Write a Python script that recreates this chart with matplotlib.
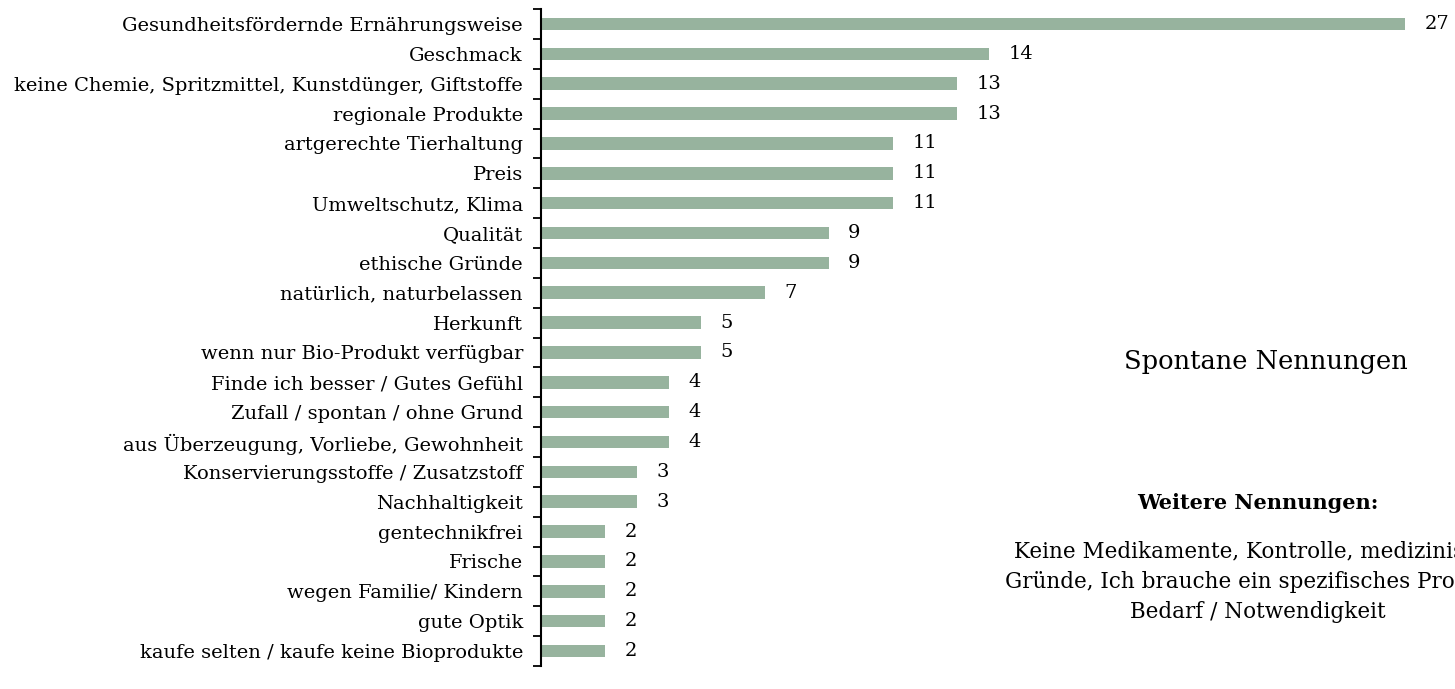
import matplotlib.pyplot as plt

# Data
categories = [
    'Gesundheitsfördernde Ernährungsweise',
    'Geschmack',
    'keine Chemie, Spritzmittel, Kunstdünger, Giftstoffe',
    'regionale Produkte',
    'artgerechte Tierhaltung',
    'Preis',
    'Umweltschutz, Klima',
    'Qualität',
    'ethische Gründe',
    'natürlich, naturbelassen',
    'Herkunft',
    'wenn nur Bio-Produkt verfügbar',
    'Finde ich besser / Gutes Gefühl',
    'Zufall / spontan / ohne Grund',
    'aus Überzeugung, Vorliebe, Gewohnheit',
    'Konservierungsstoffe / Zusatzstoff',
    'Nachhaltigkeit',
    'gentechnikfrei',
    'Frische',
    'wegen Familie/ Kindern',
    'gute Optik',
    'kaufe selten / kaufe keine Bioprodukte',
]
values = [27, 14, 13, 13, 11, 11, 11, 9, 9, 7, 5, 5, 4, 4, 4, 3, 3, 2, 2, 2, 2, 2]

side_title = 'Spontane Nennungen'
more_title = 'Weitere Nennungen:'
more_text = ('Keine Medikamente, Kontrolle, medizinische\n'
             'Gründe, Ich brauche ein spezifisches Produkt,\n'
             'Bedarf / Notwendigkeit')

plt.rcParams['font.family'] = ['DejaVu Serif']

W, H = 1455, 689
fig = plt.figure(figsize=(W / 100, H / 100), dpi=100)

n = len(categories)
row = (651 - 24) / (n - 1)
top = 24 - row / 2
ax = fig.add_axes([541 / W, (H - (top + n * row)) / H, (W - 541) / W, n * row / H])

pos = list(range(n))
ax.barh(pos, values, height=0.42, color='#97b39e')
ax.set_ylim(n - 0.5, -0.5)
ax.set_xlim(0, (W - 541) / 32)

for p, v in zip(pos, values):
    ax.text(v + 0.6, p, str(v), va='center', ha='left', fontsize=14)

ax.set_yticks(pos)
ax.set_yticklabels(categories, fontsize=14)
ax.set_yticks([p - 0.5 for p in pos] + [n - 0.5], minor=True)
ax.tick_params(axis='y', which='major', length=0, pad=13)
ax.tick_params(axis='y', which='minor', length=6, width=1.3, direction='out')
ax.set_xticks([])
for s in ['top', 'right', 'bottom']:
    ax.spines[s].set_visible(False)
ax.spines['left'].set_linewidth(1.5)

fig.text(1266 / W, 1 - 362 / H, side_title, ha='center', va='center', fontsize=18.5)
fig.text(1258 / W, 1 - 503 / H, more_title, ha='center', va='center',
         fontsize=15, fontweight='bold')
fig.text(1258 / W, 1 - 582 / H, more_text, ha='center', va='center',
         fontsize=15.5, linespacing=1.48)

plt.savefig('out.png', dpi=100)
